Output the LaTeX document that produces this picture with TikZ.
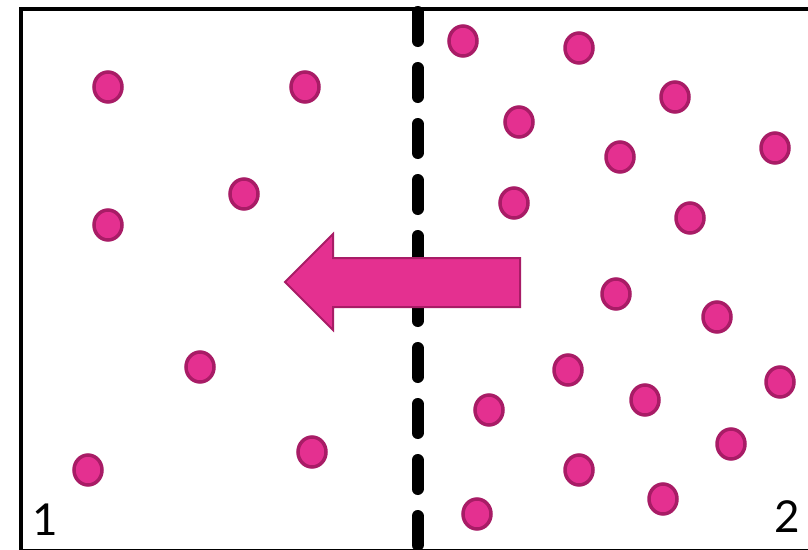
\documentclass[tikz,border=0pt]{standalone}
\usepackage{fontspec}
\setmainfont{Lato}
\definecolor{dotfill}{RGB}{228,48,144}
\definecolor{dotline}{RGB}{168,28,102}
\begin{document}
\begin{tikzpicture}[x=1pt,y=-1pt,
    particle/.style={fill=dotfill,draw=dotline,line width=3.5pt},
    wall/.style={line width=12pt,line cap=round,dash pattern=on 29pt off 27pt},
    sidelabel/.style={font=\fontsize{44}{44}\selectfont,inner sep=0pt}]
  \useasboundingbox (0,0) rectangle (808,549);
  \clip (0,0) rectangle (808,549);
  \draw[line width=4pt] (20.5,9) rectangle (840,550.5);
  % membrane
  \draw[wall] (417.5,12) -- (417.5,560);
  % particles, side 1
  \foreach \x/\y in {108/87,305/87,244/194,108/225,200/367,88/470,312/452} {
    \draw[particle] (\x,\y) ellipse (14 and 15);
  }
  % particles, side 2
  \foreach \x/\y in {463/41,579/48,675/97,519/122,620/157,775/148,514/203,690/218,
      616/294,717/317,568/370,780/382,645/400,489/410,731/444,579/470,663/499,477/514} {
    \draw[particle] (\x,\y) ellipse (14 and 15);
  }
  % flow
  \draw[particle,line width=2pt,line join=miter]
    (285,282) -- (333,234) -- (333,258) -- (520,258) -- (520,307)
    -- (333,307) -- (333,330) -- cycle;
  \node[sidelabel] (lab1) at (45,520) {1};
  \node[sidelabel] (lab2) at (787,517) {2};
\end{tikzpicture}
\end{document}
